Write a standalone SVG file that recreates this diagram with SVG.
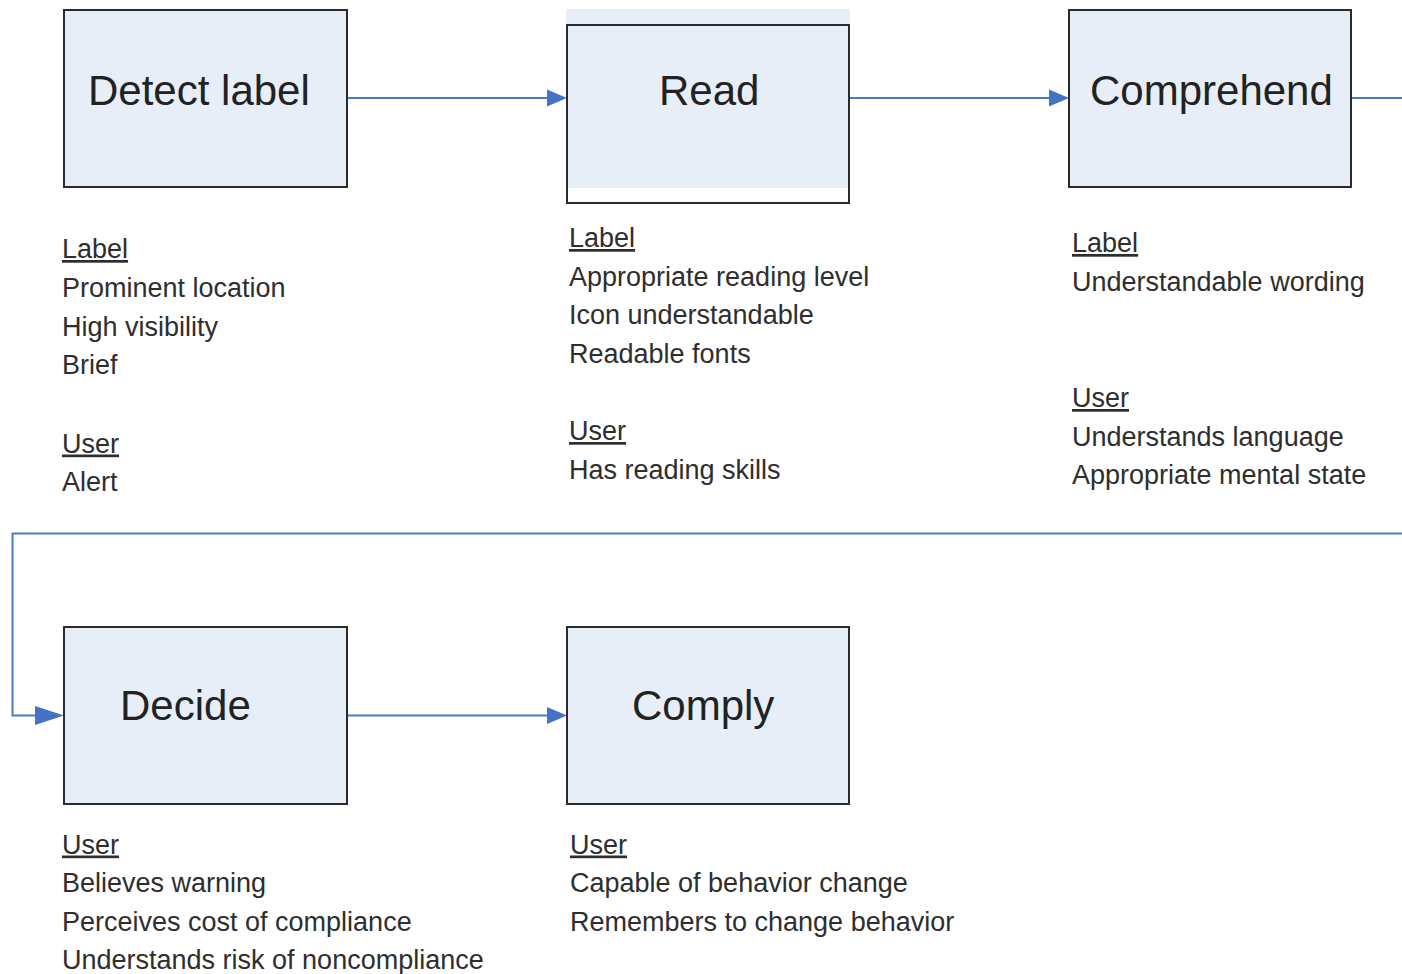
<svg xmlns="http://www.w3.org/2000/svg" width="1402" height="974" viewBox="0 0 1402 974">
<style>
.box{fill:#e8eef7;stroke:#2b2b2b;stroke-width:2}
.title{font-family:"Liberation Sans",Arial,sans-serif;font-size:42px;fill:#222}
.item{font-family:"Liberation Sans",Arial,sans-serif;font-size:27px;fill:#2e2e2e}
.hd{text-decoration:underline}
.conn{fill:none;stroke:#4a7cc4;stroke-width:2}
.ah{fill:#4472c4}
</style>
<rect width="1402" height="974" fill="#ffffff"/>
<g id="connectors">
<line class="conn" x1="347" y1="98" x2="549" y2="98"/>
<polygon class="ah" points="547,89.5 567,98 547,106.5"/>
<line class="conn" x1="849" y1="98" x2="1051" y2="98"/>
<polygon class="ah" points="1049,89.5 1069,98 1049,106.5"/>
<line class="conn" x1="1351" y1="98" x2="1402" y2="98"/>
<polyline class="conn" points="1402,533.5 12.5,533.5 12.5,715.5 38,715.5"/>
<polygon class="ah" points="35,706 64,715.5 35,725"/>
<line class="conn" x1="347" y1="715.5" x2="549" y2="715.5"/>
<polygon class="ah" points="547,707 567,715.5 547,724"/>
</g>
<g id="node-detect">
<rect class="box" x="64" y="10" width="283" height="177"/>
<text class="title" x="88" y="104.5">Detect label</text>
<text class="item" x="62" y="258">
<tspan class="hd">Label</tspan></text>
<text class="item" x="62" y="296.5">Prominent location</text>
<text class="item" x="62" y="335.5">High visibility</text>
<text class="item" x="62" y="374">Brief</text>
<text class="item" x="62" y="452.5"><tspan class="hd">User</tspan></text>
<text class="item" x="62" y="491">Alert</text>
</g>
<g id="node-read">
<rect x="566" y="9" width="284" height="179" fill="#e8eef7"/>
<rect x="567" y="25" width="282" height="178" fill="none" stroke="#2b2b2b" stroke-width="2"/>
<text class="title" x="659" y="104.5">Read</text>
<text class="item" x="569" y="247"><tspan class="hd">Label</tspan></text>
<text class="item" x="569" y="285.5">Appropriate reading level</text>
<text class="item" x="569" y="324">Icon understandable</text>
<text class="item" x="569" y="363">Readable fonts</text>
<text class="item" x="569" y="440"><tspan class="hd">User</tspan></text>
<text class="item" x="569" y="479">Has reading skills</text>
</g>
<g id="node-comprehend">
<rect class="box" x="1069" y="10" width="282" height="177"/>
<text class="title" x="1090" y="104.5">Comprehend</text>
<text class="item" x="1072" y="252"><tspan class="hd">Label</tspan></text>
<text class="item" x="1072" y="290.5">Understandable wording</text>
<text class="item" x="1072" y="407"><tspan class="hd">User</tspan></text>
<text class="item" x="1072" y="445.5">Understands language</text>
<text class="item" x="1072" y="484">Appropriate mental state</text>
</g>
<g id="node-decide">
<rect class="box" x="64" y="627" width="283" height="177"/>
<text class="title" x="120" y="720">Decide</text>
<text class="item" x="62" y="853.5"><tspan class="hd">User</tspan></text>
<text class="item" x="62" y="892">Believes warning</text>
<text class="item" x="62" y="930.5">Perceives cost of compliance</text>
<text class="item" x="62" y="969">Understands risk of noncompliance</text>
</g>
<g id="node-comply">
<rect class="box" x="567" y="627" width="282" height="177"/>
<text class="title" x="632" y="720">Comply</text>
<text class="item" x="570" y="853.5"><tspan class="hd">User</tspan></text>
<text class="item" x="570" y="892">Capable of behavior change</text>
<text class="item" x="570" y="930.5">Remembers to change behavior</text>
</g>
</svg>
